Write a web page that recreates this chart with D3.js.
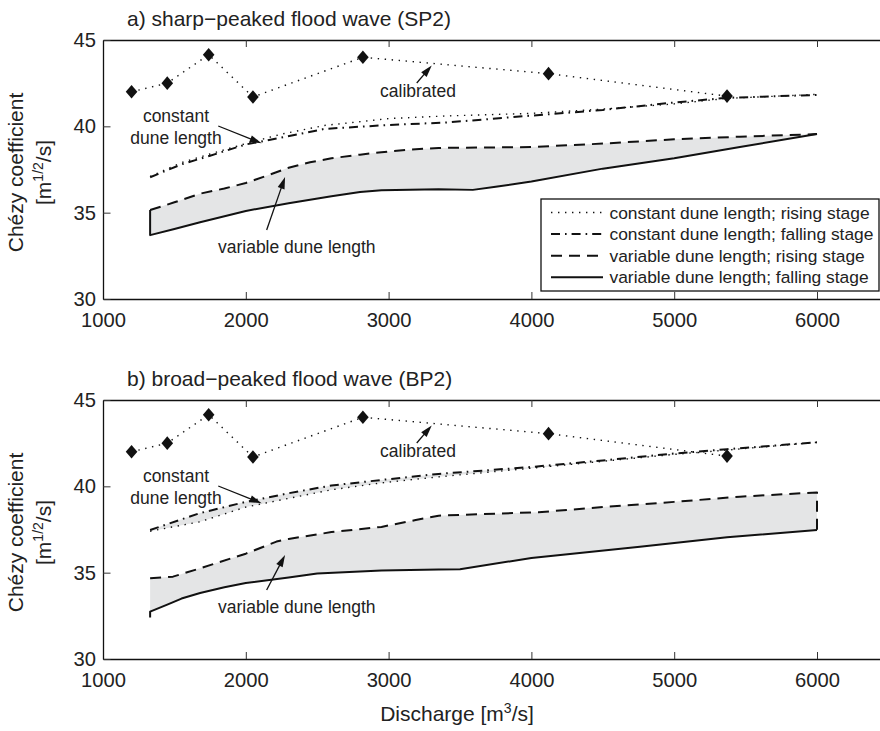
<!DOCTYPE html>
<html>
<head>
<meta charset="utf-8">
<script src="https://cdn.jsdelivr.net/npm/d3@7"></script>
<style>
  html, body { margin: 0; padding: 0; background: #fff; }
  svg { display: block; font-family: "Liberation Sans", Arial, Helvetica, sans-serif; }
</style>
</head>
<body>
<script>
// ---- Data: Chézy coefficient vs discharge ----
const xTicks = [1000, 2000, 3000, 4000, 5000, 6000];
const yTicks = [30, 35, 40, 45];

// calibrated values (same in both panels)
const calQ = [1200, 1450, 1740, 2050, 2820, 4120, 5370];
const calC = [42.0, 42.5, 44.15, 41.7, 44.0, 43.05, 41.75];

// a) sharp-peaked flood wave (SP2)
const constQA    = [1330, 1550, 1750, 2000, 2250, 2550, 3000, 3400, 4000, 4500, 5000, 5370, 6000];
const constRiseA = [37.1, 37.9, 38.4, 39.0, 39.55, 40.05, 40.45, 40.6, 40.75, 41.0, 41.3, 41.62, 41.85];
const constFallA = [37.05, 37.8, 38.3, 38.95, 39.35, 39.85, 40.08, 40.22, 40.62, 40.95, 41.38, 41.65, 41.82];
const varRiseQA  = [1330, 1500, 1680, 1850, 2000, 2150, 2300, 2450, 2600, 2800, 2950, 3150, 3350, 4000, 4500, 5000, 5460, 6000];
const varRiseA   = [35.15, 35.6, 36.1, 36.4, 36.72, 37.15, 37.6, 37.92, 38.15, 38.36, 38.5, 38.65, 38.75, 38.8, 39.0, 39.25, 39.4, 39.55];
const varFallQA  = [6000, 5460, 5000, 4500, 4000, 3750, 3590, 3350, 2950, 2800, 2600, 2300, 2000, 1680, 1500, 1330, 1330];
const varFallA   = [39.55, 38.8, 38.15, 37.55, 36.8, 36.5, 36.32, 36.35, 36.3, 36.2, 35.95, 35.55, 35.1, 34.45, 34.05, 33.7, 35.15];

// b) broad-peaked flood wave (BP2)
const constQB    = [1330, 1680, 2000, 2300, 2600, 2950, 3350, 4000, 4500, 5000, 5370, 6000];
const constRiseB = [37.4, 37.95, 38.8, 39.3, 39.8, 40.2, 40.55, 41.05, 41.45, 41.85, 42.1, 42.55];
const constFallB = [37.47, 38.45, 39.1, 39.6, 40.05, 40.37, 40.72, 41.12, 41.5, 41.9, 42.15, 42.55];
const varRiseQB  = [1330, 1490, 1680, 2000, 2215, 2300, 2600, 2950, 3190, 3350, 4050, 4500, 5000, 5460, 6000, 6000];
const varRiseB   = [34.67, 34.77, 35.25, 36.1, 36.8, 36.95, 37.35, 37.65, 38.05, 38.3, 38.5, 38.8, 39.1, 39.4, 39.65, 37.47];
const varFallQB  = [6000, 5370, 4760, 4000, 3500, 3350, 2950, 2500, 2300, 2000, 1850, 1680, 1550, 1450, 1330, 1330];
const varFallB   = [37.47, 37.05, 36.5, 35.85, 35.2, 35.18, 35.12, 34.95, 34.72, 34.4, 34.15, 33.82, 33.5, 33.15, 32.74, 32.4];

const legendLabels = [
  "constant dune length; rising stage",
  "constant dune length; falling stage",
  "variable dune length; rising stage",
  "variable dune length; falling stage"
];

// ---- Layout ----
const W = 880, H = 731;
const PLOT_LEFT = 103, PLOT_H = 259;
const FILL = "#e4e5e6";

const styles = {
  dotted:  { width: 1.4, dash: "1.4,5.6" },
  dashdot: { width: 2.0, dash: "9,5,1.6,5" },
  dashed:  { width: 2.0, dash: "11,7" },
  solid:   { width: 2.0, dash: null }
};
const legendStyles = ["dotted", "dashdot", "dashed", "solid"];

const zip = (qs, cs) => qs.map((q, i) => [q, cs[i]]);

const panels = [
  {
    top: 40,
    title: "a) sharp\u2212peaked flood wave (SP2)",
    constRise: zip(constQA, constRiseA),
    constFall: zip(constQA, constFallA),
    constFill: false,
    varRise: zip(varRiseQA, varRiseA),
    varFall: zip(varFallQA, varFallA),
    legend: true,
    varArrowTip: [2275, 37.07]
  },
  {
    top: 400,
    title: "b) broad\u2212peaked flood wave (BP2)",
    constRise: zip(constQB, constRiseB),
    constFall: zip(constQB, constFallB),
    constFill: true,
    varRise: zip(varRiseQB, varRiseB),
    varFall: zip(varFallQB, varFallB),
    legend: false,
    varArrowTip: [2275, 36.02]
  }
];

const svg = d3.select("body").append("svg")
  .attr("width", W).attr("height", H);

const x = d3.scaleLinear().domain([1000, 6500]).range([PLOT_LEFT, 888.4]);

function styled(sel, name) {
  const s = styles[name];
  sel.attr("fill", "none").attr("stroke", "#111")
    .attr("stroke-width", s.width)
    .attr("stroke-linejoin", "round");
  if (s.dash) sel.attr("stroke-dasharray", s.dash);
  return sel;
}

function arrow(g, x1, y1, x2, y2) {
  const len = 12, half = 3.6;
  const dx = x2 - x1, dy = y2 - y1, d = Math.hypot(dx, dy);
  const ux = dx / d, uy = dy / d;
  const bx = x2 - ux * len, by = y2 - uy * len;
  g.append("line").attr("x1", x1).attr("y1", y1).attr("x2", bx + ux * 2).attr("y2", by + uy * 2)
    .attr("stroke", "#111").attr("stroke-width", 1.3);
  g.append("path")
    .attr("d", `M${x2},${y2}L${bx - uy * half},${by + ux * half}L${bx + uy * half},${by - ux * half}Z`)
    .attr("fill", "#111");
}

panels.forEach(p => {
  const y = d3.scaleLinear().domain([30, 45]).range([p.top + PLOT_H, p.top]);
  const g = svg.append("g");
  const line = d3.line().x(d => x(d[0])).y(d => y(d[1]));

  // title
  g.append("text").attr("x", 127).attr("y", p.top - 14)
    .attr("font-size", 21).attr("fill", "#222").text(p.title);

  // fills
  g.append("path")
    .attr("d", line(p.varRise.concat(p.varFall)) + "Z")
    .attr("fill", FILL).attr("stroke", "none");
  if (p.constFill) {
    g.append("path")
      .attr("d", line(p.constFall.concat(p.constRise.slice().reverse())) + "Z")
      .attr("fill", FILL).attr("stroke", "none");
  }

  // axes (box on three visible sides, ticks inward)
  const fmt = d3.format("d");
  const bottom = g.append("g").attr("transform", `translate(0,${p.top + PLOT_H})`)
    .call(d3.axisBottom(x).tickValues(xTicks).tickFormat(fmt).tickSizeInner(-7).tickSizeOuter(0).tickPadding(13.2));
  const topAx = g.append("g").attr("transform", `translate(0,${p.top})`)
    .call(d3.axisTop(x).tickValues(xTicks).tickSizeInner(-7).tickSizeOuter(0).tickFormat(""));
  const left = g.append("g").attr("transform", `translate(${PLOT_LEFT},0)`)
    .call(d3.axisLeft(y).tickValues(yTicks).tickFormat(fmt).tickSizeInner(-7.5).tickSizeOuter(0).tickPadding(7));
  [bottom, topAx, left].forEach(a => {
    a.attr("font-family", null).attr("font-size", 20.2);
    a.select(".domain").attr("stroke", "#111").attr("stroke-width", 1.3);
    a.selectAll(".tick line").attr("stroke", "#333").attr("stroke-width", 1);
    a.selectAll(".tick text").attr("fill", "#222");
  });
  left.selectAll(".tick text").attr("dy", "0.32em");

  // model lines
  styled(g.append("path").attr("d", line(p.constRise)), "dotted");
  styled(g.append("path").attr("d", line(p.constFall)), "dashdot");
  styled(g.append("path").attr("d", line(p.varRise)), "dashed");
  styled(g.append("path").attr("d", line(p.varFall)), "solid");

  // calibrated
  const cal = zip(calQ, calC);
  styled(g.append("path").attr("d", line(cal)), "dotted");
  g.selectAll(".cal").data(cal).join("path")
    .attr("transform", d => `translate(${x(d[0])},${y(d[1])})`)
    .attr("d", "M0,-6.8L5.8,0L0,6.8L-5.8,0Z")
    .attr("fill", "#111");

  // annotations
  const ann = g.append("g").attr("font-size", 17.5).attr("fill", "#222");
  ann.append("text").attr("x", x(2940)).attr("y", y(41.67)).text("calibrated");
  arrow(ann, x(3197), y(42.51), x(3302), y(43.52));
  ann.append("text").attr("x", x(1511)).attr("y", y(40.25)).attr("text-anchor", "middle").text("constant");
  ann.append("text").attr("x", x(1511)).attr("y", y(39.0)).attr("text-anchor", "middle").text("dune length");
  arrow(ann, x(1807), y(40.02), x(2111), y(39.02));
  ann.append("text").attr("x", x(1805)).attr("y", y(32.66)).text("variable dune length");
  arrow(ann, x(2146), y(34.0), x(p.varArrowTip[0]), y(p.varArrowTip[1]));

  // y label
  const cy = p.top + PLOT_H / 2 + 3;
  const yl = g.append("text").attr("transform", `translate(23,${cy}) rotate(-90)`)
    .attr("text-anchor", "middle").attr("font-size", 21).attr("fill", "#222");
  yl.text("Ch\u00e9zy coefficient");
  const yl2 = g.append("text").attr("transform", `translate(51,${cy}) rotate(-90)`)
    .attr("text-anchor", "middle").attr("font-size", 21).attr("fill", "#222");
  yl2.append("tspan").text("[m");
  yl2.append("tspan").attr("font-size", 14).attr("dy", -8).text("1/2");
  yl2.append("tspan").attr("dy", 8).text("/s]");

  // legend
  if (p.legend) {
    const lg = g.append("g");
    lg.append("rect").attr("x", 541).attr("y", 199).attr("width", 338).attr("height", 92)
      .attr("fill", "#fff").attr("stroke", "#111").attr("stroke-width", 1.3);
    legendLabels.forEach((lab, i) => {
      const by = 218.5 + i * 21.6;
      styled(lg.append("line").attr("x1", 551).attr("x2", 603).attr("y1", by - 6).attr("y2", by - 6), legendStyles[i]);
      lg.append("text").attr("x", 609.5).attr("y", by).attr("font-size", 17.4).attr("fill", "#222").text(lab);
    });
  }
});

// x label
const xl = svg.append("text").attr("x", 457).attr("y", 721)
  .attr("text-anchor", "middle").attr("font-size", 21).attr("fill", "#222");
xl.append("tspan").text("Discharge [m");
xl.append("tspan").attr("font-size", 14).attr("dy", -8).text("3");
xl.append("tspan").attr("dy", 8).text("/s]");
</script>
</body>
</html>
